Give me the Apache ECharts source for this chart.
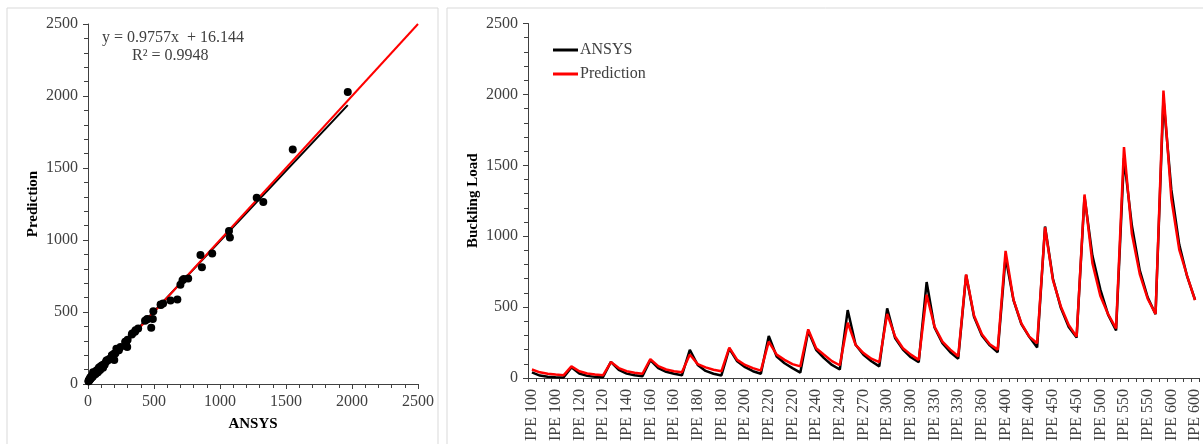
<!DOCTYPE html>
<html>
<head>
<meta charset="utf-8">
<script src="https://cdn.jsdelivr.net/npm/echarts@6/dist/echarts.min.js"></script>
<style>
  html, body { margin: 0; padding: 0; background: #fff; }
  #chart { width: 1203px; height: 444px; }
</style>
</head>
<body>
<div id="chart"></div>
<script>
// IPE sections, 5 member lengths each
const sections = ['IPE 100', 'IPE 120', 'IPE 140', 'IPE 160', 'IPE 180', 'IPE 200', 'IPE 220', 'IPE 240', 'IPE 270',
  'IPE 300', 'IPE 330', 'IPE 360', 'IPE 400', 'IPE 450', 'IPE 500', 'IPE 550', 'IPE 600']
const categories = sections.flatMap(s => [s, s, s, s, s])

const ansys = [
  40, 17, 9, 6, 4,
  75, 32, 15, 8, 5,
  114, 58, 31, 19, 12,
  126, 70, 44, 30, 19,
  199, 92, 50, 30, 18,
  208, 118, 76, 48, 30,
  297, 152, 104, 70, 38,
  332, 199, 140, 92, 60,
  479, 234, 164, 118, 82,
  491, 282, 200, 146, 112,
  677, 356, 246, 182, 136,
  726, 432, 300, 230, 182,
  852, 550, 380, 290, 215,
  1068, 700, 495, 360, 285,
  1278, 863, 625, 445, 335,
  1551, 1075, 759, 569, 450,
  1968, 1328, 941, 716, 552
]
const prediction = [
  60, 40, 30, 24, 19,
  82, 48, 32, 24, 19,
  112, 70, 48, 37, 30,
  133, 84, 60, 48, 40,
  166, 98, 75, 58, 47,
  214, 128, 92, 70, 52,
  257, 165, 128, 98, 82,
  343, 210, 164, 119, 90,
  390, 234, 176, 136, 112,
  452, 293, 210, 165, 128,
  587, 362, 257, 200, 153,
  730, 440, 308, 238, 200,
  896, 552, 385, 292, 245,
  1063, 690, 505, 374, 292,
  1294, 810, 580, 448, 350,
  1629, 1017, 733, 559, 452,
  2027, 1264, 906, 721, 549
]

// linear fit shown on the scatter
const slope = 0.9757
const intercept = 16.144
const rSquared = 0.9948
const fitEndX = 1968
const axisMax = 2500

const font = 'Liberation Serif'
const labelColor = '#404040'
const axisColor = '#404040'

const scatterData = ansys.map((a, i) => [a, prediction[i]])
const fitLine = [[0, intercept], [fitEndX, slope * fitEndX + intercept]]
const idealLine = [[0, 0], [axisMax, axisMax]]

function valueAxis (gridIndex, name, gap) {
  return {
    type: 'value',
    gridIndex: gridIndex,
    min: 0,
    max: axisMax,
    interval: 500,
    name: name,
    nameLocation: 'middle',
    nameGap: gap,
    nameMoveOverlap: false,
    nameTextStyle: { fontFamily: font, fontSize: 15, fontWeight: 'bold', color: '#000' },
    axisLine: { show: true, lineStyle: { color: axisColor, width: 1 } },
    axisTick: { show: true, length: 5, lineStyle: { color: axisColor } },
    minorTick: { show: true, splitNumber: 5, length: 4, lineStyle: { color: axisColor } },
    splitLine: { show: false },
    axisLabel: { fontFamily: font, fontSize: 16, color: labelColor, margin: 10, formatter: v => String(v) }
  }
}

const chart = echarts.init(document.getElementById('chart'))
const option = {
  animation: false,
  backgroundColor: '#fff',
  graphic: [
    { type: 'rect', shape: { x: 7, y: 8, width: 431, height: 460 }, style: { fill: 'none', stroke: '#d9d9d9', lineWidth: 1 } },
    { type: 'rect', shape: { x: 447, y: 8, width: 780, height: 460 }, style: { fill: 'none', stroke: '#d9d9d9', lineWidth: 1 } },
    { type: 'text', left: 102, top: 30, style: { text: 'y = ' + slope + 'x  + ' + intercept, font: '16px ' + font, fill: labelColor } },
    { type: 'text', left: 132, top: 48, style: { text: 'R² = ' + rSquared, font: '16px ' + font, fill: labelColor } }
  ],
  grid: [
    { left: 88, top: 24, width: 330, height: 360 },
    { left: 528, top: 23.5, width: 675, height: 356.5 }
  ],
  legend: {
    left: 553,
    top: 42,
    padding: 0,
    orient: 'vertical',
    icon: 'rect',
    itemWidth: 25,
    itemHeight: 3,
    itemGap: 8,
    data: ['ANSYS', 'Prediction'],
    textStyle: { fontFamily: font, fontSize: 16, color: labelColor, padding: [0, 0, 0, -3] }
  },
  xAxis: [
    valueAxis(0, 'ANSYS', 33),
    {
      type: 'category',
      gridIndex: 1,
      data: categories,
      axisLine: { show: true, lineStyle: { color: axisColor, width: 1 } },
      axisTick: { show: true, interval: 0, length: 4, lineStyle: { color: axisColor } },
      axisLabel: { interval: 2, rotate: 90, fontFamily: font, fontSize: 16, color: labelColor, margin: 11 }
    }
  ],
  yAxis: [
    valueAxis(0, 'Prediction', 47),
    valueAxis(1, 'Buckling Load', 47)
  ],
  series: [
    {
      type: 'line',
      xAxisIndex: 0,
      yAxisIndex: 0,
      data: fitLine,
      showSymbol: false,
      lineStyle: { color: '#000', width: 2 },
      z: 2
    },
    {
      type: 'line',
      xAxisIndex: 0,
      yAxisIndex: 0,
      data: idealLine,
      showSymbol: false,
      lineStyle: { color: '#ff0000', width: 2 },
      z: 3
    },
    {
      type: 'scatter',
      xAxisIndex: 0,
      yAxisIndex: 0,
      data: scatterData,
      symbolSize: 8,
      itemStyle: { color: '#000', opacity: 1 },
      z: 4
    },
    {
      name: 'ANSYS',
      type: 'line',
      xAxisIndex: 1,
      yAxisIndex: 1,
      data: ansys,
      showSymbol: false,
      lineStyle: { color: '#000', width: 2.5 },
      itemStyle: { color: '#000' }
    },
    {
      name: 'Prediction',
      type: 'line',
      xAxisIndex: 1,
      yAxisIndex: 1,
      data: prediction,
      showSymbol: false,
      lineStyle: { color: '#ff0000', width: 2.5 },
      itemStyle: { color: '#ff0000' }
    }
  ]
}
chart.setOption(option)
</script>
</body>
</html>
